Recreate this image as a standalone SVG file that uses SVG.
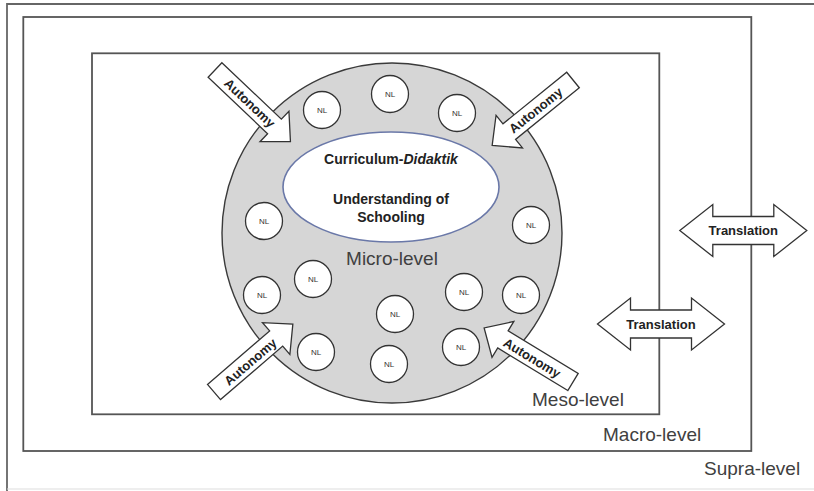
<svg xmlns="http://www.w3.org/2000/svg" width="814" height="491" viewBox="0 0 814 491">
<style>
.frame{fill:none;stroke:#555;stroke-width:1.8}
.lvl{font-family:"Liberation Sans",Arial,sans-serif;font-size:19px;fill:#404040}
.nl circle{fill:#fff;stroke:#333;stroke-width:1.3}
.nl text{font-family:"Liberation Sans",Arial,sans-serif;font-size:8px;fill:#333;text-anchor:middle}
.blk{fill:#fff;stroke:#333;stroke-width:1.3;stroke-linejoin:miter}
.lab{font-family:"Liberation Sans",Arial,sans-serif;font-weight:bold;font-size:13px;fill:#222;text-anchor:middle}
.core{font-family:"Liberation Sans",Arial,sans-serif;font-weight:bold;font-size:14px;fill:#222;text-anchor:middle}
</style>
<defs>
<path id="auto" d="M0,-10 H82 V-21 L104,0 L82,21 V10 H0 Z"/>
<path id="trans" d="M-63.5,0 L-30.5,-26 V-14 H30.5 V-26 L63.5,0 L30.5,26 V14 H-30.5 V26 Z"/>
</defs>
<rect width="814" height="491" fill="#fff"/>
<g id="supra">
<path d="M7,491 V4 H814" fill="none" stroke="#666" stroke-width="1.8"/>
<line x1="7" y1="489" x2="814" y2="489" stroke="#ddd" stroke-width="1"/>
<text class="lvl" x="704" y="475">Supra-level</text>
</g>
<g id="macro">
<rect class="frame" x="23.3" y="17" width="728" height="434"/>
<text class="lvl" x="603" y="441">Macro-level</text>
</g>
<g id="meso">
<rect class="frame" x="92" y="53.3" width="567.3" height="361"/>
<text class="lvl" x="532" y="406">Meso-level</text>
</g>
<g id="micro">
<circle cx="392" cy="233" r="170" fill="#d6d6d6" stroke="#3a3a3a" stroke-width="1.4"/>
<text class="lvl" x="392" y="265" text-anchor="middle">Micro-level</text>
</g>
<g id="core">
<ellipse cx="391" cy="187" rx="108" ry="55" fill="#fff" stroke="#6a78a8" stroke-width="1.6"/>
<text class="core" x="391" y="164">Curriculum-<tspan font-style="italic">Didaktik</tspan></text>
<text class="core" x="391" y="204">Understanding of</text>
<text class="core" x="391" y="222">Schooling</text>
</g>
<g id="nl1" class="nl"><circle cx="322" cy="110" r="18.5"/><text x="322" y="113">NL</text></g>
<g id="nl2" class="nl"><circle cx="390" cy="94" r="18.5"/><text x="390" y="97">NL</text></g>
<g id="nl3" class="nl"><circle cx="457" cy="113" r="18.5"/><text x="457" y="116">NL</text></g>
<g id="nl4" class="nl"><circle cx="264" cy="221" r="18.5"/><text x="264" y="224">NL</text></g>
<g id="nl5" class="nl"><circle cx="531" cy="225" r="18.5"/><text x="531" y="228">NL</text></g>
<g id="nl6" class="nl"><circle cx="313" cy="279" r="18.5"/><text x="313" y="282">NL</text></g>
<g id="nl7" class="nl"><circle cx="262" cy="295" r="18.5"/><text x="262" y="298">NL</text></g>
<g id="nl8" class="nl"><circle cx="464" cy="292" r="18.5"/><text x="464" y="295">NL</text></g>
<g id="nl9" class="nl"><circle cx="521" cy="295" r="18.5"/><text x="521" y="298">NL</text></g>
<g id="nl10" class="nl"><circle cx="395" cy="314" r="18.5"/><text x="395" y="317">NL</text></g>
<g id="nl11" class="nl"><circle cx="316" cy="352" r="18.5"/><text x="316" y="355">NL</text></g>
<g id="nl12" class="nl"><circle cx="461" cy="347" r="18.5"/><text x="461" y="350">NL</text></g>
<g id="nl13" class="nl"><circle cx="389" cy="364" r="18.5"/><text x="389" y="367">NL</text></g>
<g id="connectors">
<g id="autonomy-tl"><use href="#auto" class="blk" transform="translate(215,70) rotate(43.5)"/><text class="lab" transform="translate(249.8,103) rotate(43.5)" y="4.6">Autonomy</text></g>
<g id="autonomy-tr"><use href="#auto" class="blk" transform="translate(573,80) rotate(141)"/><text class="lab" transform="translate(535.7,110.2) rotate(-39)" y="4.6">Autonomy</text></g>
<g id="autonomy-bl"><use href="#auto" class="blk" transform="translate(214,392) rotate(-40.7)"/><text class="lab" transform="translate(250.4,361.7) rotate(-40.7)" y="4.6">Autonomy</text></g>
<g id="autonomy-br"><use href="#auto" class="blk" transform="translate(573,382) rotate(211.3)"/><text class="lab" transform="translate(532,358) rotate(31.3)" y="4.6">Autonomy</text></g>
<g id="translation-1"><use href="#trans" class="blk" transform="translate(743.3,230.5)"/><text class="lab" x="743.3" y="235">Translation</text></g>
<g id="translation-2"><use href="#trans" class="blk" transform="translate(661,324)"/><text class="lab" x="661" y="328.5">Translation</text></g>
</g>
</svg>
